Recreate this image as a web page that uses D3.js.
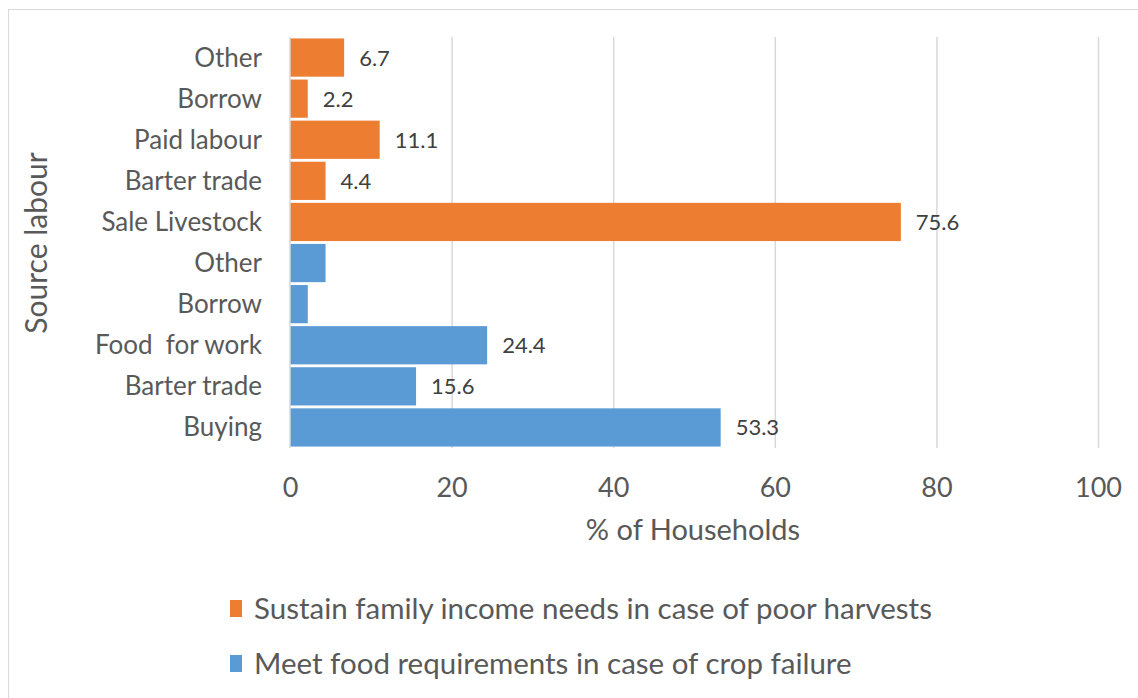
<!DOCTYPE html>
<html>
<head>
<meta charset="utf-8">
<script src="https://cdn.jsdelivr.net/npm/d3@7"></script>
<style>
  html, body { margin: 0; padding: 0; background: #fff; }
  svg { display: block; font-family: Lato, "Open Sans", sans-serif; }
</style>
</head>
<body>
<svg id="chart" width="1138" height="698"></svg>
<script>
// Categories listed top to bottom
const categories = ["Other", "Borrow", "Paid labour", "Barter trade", "Sale Livestock",
                    "Other", "Borrow", "Food  for work", "Barter trade", "Buying"];
// Series membership of each row (0 = income, 1 = food)
const seriesIndex = [0, 0, 0, 0, 0, 1, 1, 1, 1, 1];
const values = [6.7, 2.2, 11.1, 4.4, 75.6, 4.4, 2.2, 24.4, 15.6, 53.3];
// Which rows carry a data label
const showLabel = [true, true, true, true, true, false, false, true, true, true];
const seriesNames = ["Sustain family income needs in case of poor harvests",
                     "Meet food requirements in case of crop failure"];
const seriesColors = ["#ED7D31", "#5B9BD5"];
const xTicks = [0, 20, 40, 60, 80, 100];

const svg = d3.select("#chart");

// outer chart frame
svg.append("rect")
  .attr("x", 8.5).attr("y", 9.5)
  .attr("width", 1140).attr("height", 700)
  .attr("fill", "none").attr("stroke", "#d9d9d9").attr("stroke-width", 1);

const x = d3.scaleLinear().domain([0, 100]).range([290, 1098]);
const y = d3.scaleBand().domain(d3.range(categories.length)).range([37, 448]).paddingInner(0.07).paddingOuter(0.035);

// gridlines
svg.append("g").selectAll("line").data(xTicks.filter(t => t > 0)).join("line")
  .attr("x1", d => x(d) + 0.5).attr("x2", d => x(d) + 0.5)
  .attr("y1", 37).attr("y2", 448)
  .attr("stroke", "#d9d9d9").attr("stroke-width", 1.5);

// bars
svg.append("g").selectAll("rect").data(values).join("rect")
  .attr("x", x(0))
  .attr("y", (d, i) => y(i))
  .attr("width", d => x(d) - x(0))
  .attr("height", y.bandwidth())
  .attr("fill", (d, i) => seriesColors[seriesIndex[i]]);

// value axis line
svg.append("line")
  .attr("x1", x(0)).attr("x2", x(0)).attr("y1", 37).attr("y2", 448)
  .attr("stroke", "#d9d9d9").attr("stroke-width", 1.5);

// data labels
svg.append("g").selectAll("text").data(values.map((v, i) => ({ v, i })).filter(d => showLabel[d.i])).join("text")
  .attr("x", d => x(d.v) + 15)
  .attr("y", d => y(d.i) + y.bandwidth() / 2 + 8)
  .attr("font-size", 22)
  .attr("fill", "#404040")
  .text(d => d3.format(".1f")(d.v));

// category labels
svg.append("g").selectAll("text").data(categories).join("text")
  .attr("x", 262)
  .attr("y", (d, i) => y(i) + y.bandwidth() / 2 + 9)
  .attr("text-anchor", "end")
  .attr("font-size", 26)
  .attr("fill", "#595959")
  .style("white-space", "pre")
  .text(d => d);

// x tick labels
const xAxis = d3.axisBottom(x).tickValues(xTicks).tickSize(0).tickPadding(0);
const gx = svg.append("g").attr("transform", "translate(0,497)").call(xAxis);
gx.select(".domain").remove();
gx.selectAll("text").attr("font-size", 27).attr("fill", "#595959").attr("font-family", "Lato, sans-serif").attr("dy", 0);

// axis titles
svg.append("text")
  .attr("x", 693).attr("y", 540)
  .attr("text-anchor", "middle").attr("font-size", 29).attr("fill", "#595959")
  .text("% of Households");
svg.append("text")
  .attr("transform", "translate(47,243) rotate(-90)")
  .attr("text-anchor", "middle").attr("font-size", 30).attr("fill", "#595959")
  .text("Source labour");

// legend
const legend = svg.append("g").selectAll("g").data(seriesNames).join("g")
  .attr("transform", (d, i) => `translate(230,${600 + i * 55})`);
legend.append("rect").attr("width", 12).attr("height", 17)
  .attr("fill", (d, i) => seriesColors[i]);
legend.append("text").attr("x", 24).attr("y", 19)
  .attr("font-size", 29.5).attr("fill", "#595959")
  .text(d => d);
</script>
</body>
</html>
